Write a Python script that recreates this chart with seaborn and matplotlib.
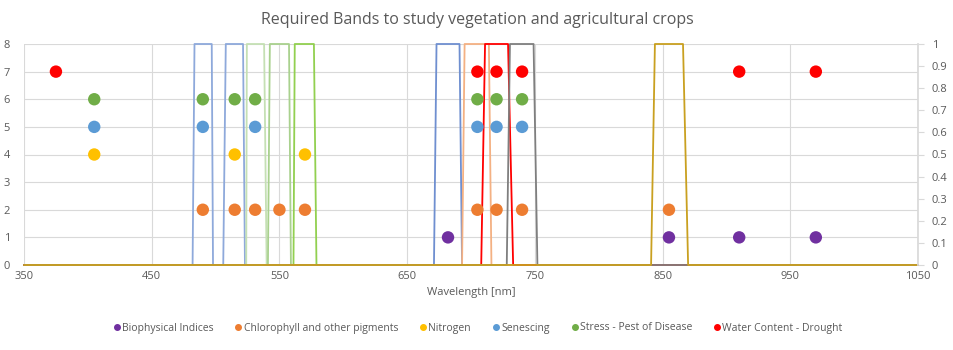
import numpy as np
import pandas as pd
import matplotlib
matplotlib.use("Agg")
import matplotlib.pyplot as plt
import seaborn as sns

# ---------------- data ----------------
categories = ["Biophysical Indices", "Chlorophyll and other pigments", "Nitrogen",
              "Senescing", "Stress - Pest of Disease", "Water Content - Drought"]
levels = [1, 2, 4, 5, 6, 7]
biophysical_wl = [682, 855, 910, 970]
chlorophyll_wl = [490, 515, 531, 550, 570, 705, 720, 740, 855]
nitrogen_wl = [405, 515, 570]
senescing_wl = [405, 490, 531, 705, 720, 740]
stress_wl = [405, 490, 515, 531, 705, 720, 740]
water_wl = [375, 705, 720, 740, 910, 970]
point_colors = ["#7030A0", "#ED7D31", "#FFC000", "#5B9BD5", "#70AD47", "#FF0000"]

# band filters (response 0..1 on the secondary axis)
band_names = ["B490", "B515", "B531", "B550", "B570", "B682", "B705", "B720", "B740", "B855"]
band_lo_bottom = [482, 506, 524, 541, 561, 671, 693, 708, 728, 841]
band_lo_top = [483.5, 508, 524.5, 542.5, 562, 673, 695, 711, 730.5, 844]
band_hi_top = [497, 521.5, 538, 557.5, 577, 691, 714, 729, 749, 866]
band_hi_bottom = [498, 523, 540, 559, 579, 693, 716, 733, 752, 870]
band_colors = ["#8EA9DB", "#8EA9DB", "#C5E0B4", "#A9D18E", "#92D050",
               "#6F8FD0", "#F4B183", "#FF0000", "#7F7F7F", "#C9A020"]
x_min, x_max = 350, 1050

# ---------------- frames ----------------
pts = pd.concat([
    pd.DataFrame({"wl": wl, "level": lv, "cat": c})
    for wl, lv, c in zip([biophysical_wl, chlorophyll_wl, nitrogen_wl, senescing_wl, stress_wl, water_wl],
                         levels, categories)
], ignore_index=True)

rows = []
for name, lb, lt, ht, hb in zip(band_names, band_lo_bottom, band_lo_top, band_hi_top, band_hi_bottom):
    for w, r in [(x_min, 0), (lb, 0), (lt, 1), (ht, 1), (hb, 0), (x_max, 0)]:
        rows.append({"wl": w, "resp": r, "band": name})
bands = pd.DataFrame(rows)

# ---------------- plot ----------------
sns.set_theme(style="white")
plt.rcParams["font.family"] = ["Open Sans", "DejaVu Sans"]
text_c = "#595959"
grid_c = "#D9D9D9"

fig = plt.figure(figsize=(9.54, 3.5), dpi=100)
rect = [24 / 954, 1 - 265 / 350, (918 - 24) / 954, (265 - 44) / 350]
ax = fig.add_axes(rect)          # primary: grid + ticks
ax2 = ax.twinx()                 # secondary: band responses
ax3 = fig.add_axes(rect)         # overlay for the points (same scale as primary)

ax.set_xlim(x_min, x_max)
ax.set_ylim(0, 8)
ax2.set_ylim(0, 1)

ax.set_xticks(np.arange(350, 1051, 100))
ax.set_yticks(np.arange(0, 9, 1))
ax2.set_yticks(np.round(np.arange(0, 1.01, 0.1), 1))
ax2.set_yticklabels(["0"] + [f"{v:.1f}" for v in np.arange(0.1, 0.95, 0.1)] + ["1"])

ax.grid(True, color=grid_c, linewidth=0.8)
ax.set_axisbelow(True)
for a in (ax, ax2, ax3):
    for s in a.spines.values():
        s.set_visible(False)
ax2.spines["right"].set_visible(True)
ax2.spines["right"].set_color(grid_c)

ax.tick_params(axis="both", length=0, labelsize=8, colors=text_c, pad=4)
ax.tick_params(axis="y", pad=10)
ax2.tick_params(axis="y", length=4, width=0.8, color=grid_c, labelsize=8, labelcolor=text_c, pad=6)

sns.lineplot(data=bands, x="wl", y="resp", hue="band", hue_order=band_names,
             palette=band_colors, sort=False, estimator=None, legend=False,
             linewidth=1.3, ax=ax2)
for ln in ax2.lines:
    ln.set_solid_joinstyle("round")
    ln.set_clip_on(False)

ax.set_zorder(1)
ax2.set_zorder(2)
ax3.set_zorder(3)
ax2.patch.set_visible(False)
ax3.patch.set_visible(False)

sns.scatterplot(data=pts, x="wl", y="level", hue="cat", hue_order=categories,
                palette=point_colors, s=80, edgecolor="none", legend=False, ax=ax3)
ax3.set_xlim(x_min, x_max)
ax3.set_ylim(0, 8)
ax3.set_xticks([])
ax3.set_yticks([])
ax3.set_xlabel("")
ax3.set_ylabel("")

ax.set_xlabel("Wavelength [nm]", fontsize=8, color=text_c, labelpad=4)
ax.set_ylabel("")
ax2.set_ylabel("")

fig.text(0.5, 1 - 20 / 350, "Required Bands to study vegetation and agricultural crops",
         ha="center", va="center", fontsize=11.5, color=text_c)

handles = [plt.Line2D([], [], marker="o", linestyle="none", color=c, markersize=4)
           for c in point_colors]
fig.legend(handles, categories, loc="center", bbox_to_anchor=(0.5, 1 - 328 / 350),
           ncol=6, frameon=False, fontsize=7.5, handletextpad=0.0, columnspacing=1.9,
           labelcolor=text_c, handlelength=1.0)

fig.savefig("out.png", dpi=100)
